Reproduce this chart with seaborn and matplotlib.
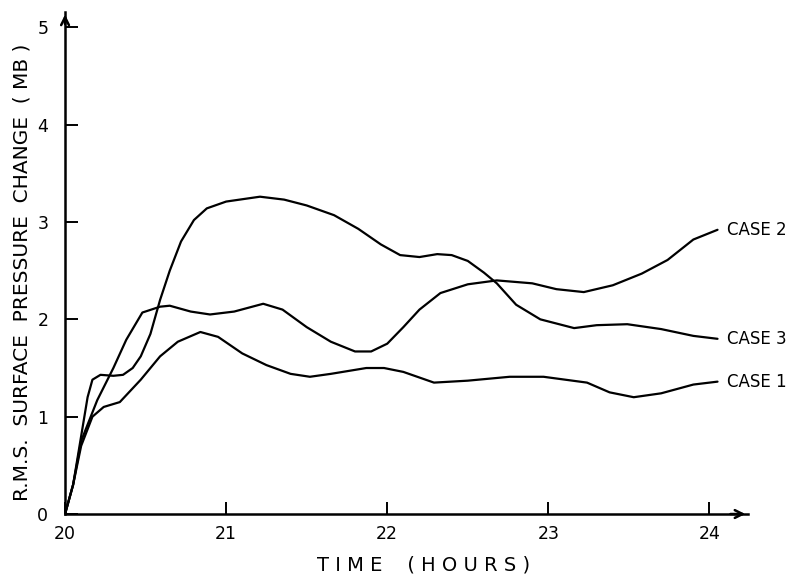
import numpy as np
import pandas as pd
import seaborn as sns
import matplotlib
matplotlib.use("Agg")
import matplotlib.pyplot as plt

# --- DATA ---
case1_time = [20.0, 20.05, 20.1, 20.17, 20.24, 20.34, 20.47, 20.59, 20.7, 20.84,
              20.95, 21.1, 21.25, 21.4, 21.52, 21.65, 21.87, 21.98, 22.1, 22.29,
              22.5, 22.76, 22.97, 23.24, 23.38, 23.53, 23.7, 23.9, 24.05]
case1_rms = [0.0, 0.3, 0.7, 1.0, 1.1, 1.15, 1.38, 1.62, 1.77, 1.87,
             1.82, 1.65, 1.53, 1.44, 1.41, 1.44, 1.5, 1.5, 1.46, 1.35,
             1.37, 1.41, 1.41, 1.35, 1.25, 1.2, 1.24, 1.33, 1.36]

case2_time = [20.0, 20.05, 20.1, 20.2, 20.3, 20.38, 20.48, 20.59, 20.65, 20.78,
              20.9, 21.05, 21.23, 21.35, 21.5, 21.65, 21.8, 21.9, 22.0, 22.1,
              22.2, 22.33, 22.5, 22.68, 22.9, 23.05, 23.22, 23.4, 23.58, 23.74,
              23.9, 24.05]
case2_rms = [0.0, 0.3, 0.75, 1.17, 1.5, 1.79, 2.07, 2.13, 2.14, 2.08,
             2.05, 2.08, 2.16, 2.1, 1.92, 1.77, 1.67, 1.67, 1.75, 1.92,
             2.1, 2.27, 2.36, 2.4, 2.37, 2.31, 2.28, 2.35, 2.47, 2.61,
             2.82, 2.92]

case3_time = [20.0, 20.05, 20.1, 20.14, 20.17, 20.22, 20.3, 20.36, 20.42, 20.47,
              20.53, 20.59, 20.65, 20.72, 20.8, 20.88, 21.0, 21.21, 21.36, 21.5,
              21.67, 21.82, 21.96, 22.08, 22.2, 22.31, 22.4, 22.5, 22.6, 22.68,
              22.8, 22.95, 23.16, 23.3, 23.49, 23.7, 23.9, 24.05]
case3_rms = [0.0, 0.3, 0.8, 1.2, 1.38, 1.43, 1.42, 1.43, 1.5, 1.62,
             1.85, 2.2, 2.5, 2.8, 3.02, 3.14, 3.21, 3.26, 3.23, 3.17,
             3.07, 2.93, 2.77, 2.66, 2.64, 2.67, 2.66, 2.6, 2.48, 2.37,
             2.15, 2.0, 1.91, 1.94, 1.95, 1.9, 1.83, 1.8]

case_labels = ["CASE 1", "CASE 2", "CASE 3"]
x_ticks = [20, 21, 22, 23, 24]
y_ticks = [0, 1, 2, 3, 4, 5]

# --- PLOT ---
sns.set_style("ticks")
plt.rcParams["font.family"] = ["DejaVu Sans"]
plt.rcParams["text.color"] = "black"
plt.rcParams["xtick.color"] = "black"
plt.rcParams["ytick.color"] = "black"

fig = plt.figure(figsize=(7.98, 5.76), dpi=100)
ax = fig.add_axes([0.0815, 0.1076, 0.856, 0.872])

series = [(case1_time, case1_rms), (case2_time, case2_rms), (case3_time, case3_rms)]
for (t, v), lab in zip(series, case_labels):
    df = pd.DataFrame({"time": t, "rms": v})
    sns.lineplot(data=df, x="time", y="rms", color="black", linewidth=1.6,
                 sort=False, estimator=None, ax=ax)
    ax.text(t[-1] + 0.06, v[-1], lab, ha="left", va="center", fontsize=12)

ax.set_xlim(20, 24.24)
ax.set_ylim(0, 5.16)
ax.set_xticks(x_ticks)
ax.set_yticks(y_ticks)
ax.tick_params(direction="in", length=9, width=1.4, labelsize=12.5)
ax.tick_params(axis="y", pad=12)
ax.tick_params(axis="x", pad=8)

sns.despine(ax=ax)
for side in ["left", "bottom"]:
    ax.spines[side].set_linewidth(1.8)
    ax.spines[side].set_color("black")

# arrow heads on axes
ax.annotate("", xy=(1.0, 0), xytext=(0.97, 0), xycoords="axes fraction",
            arrowprops=dict(arrowstyle="->", lw=1.8, color="black",
                            mutation_scale=14), annotation_clip=False)
ax.annotate("", xy=(0, 1.0), xytext=(0, 0.97), xycoords="axes fraction",
            arrowprops=dict(arrowstyle="->", lw=1.8, color="black",
                            mutation_scale=14), annotation_clip=False)

ax.set_xlabel("")
ax.set_ylabel("")
fig.text(0.531, 0.019, "T I M E    ( H O U R S )", fontsize=14,
         ha="center", va="center")
fig.text(0.028, 0.528, "R.M.S.  SURFACE  PRESSURE  CHANGE  ( MB )", fontsize=14.5,
         ha="center", va="center", rotation=90)

fig.savefig("out.png", dpi=100)
